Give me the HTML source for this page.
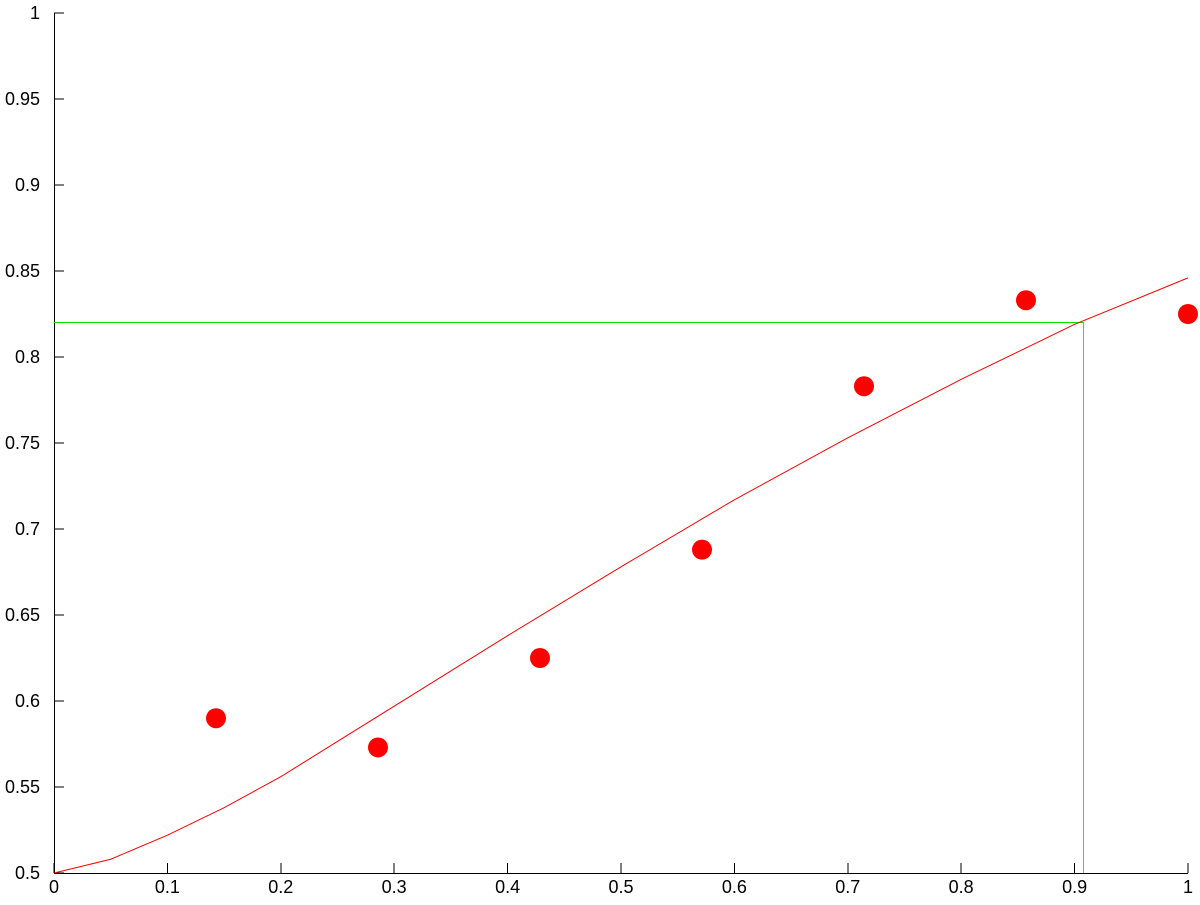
<!DOCTYPE html>
<html><head><meta charset="utf-8"><style>
body{margin:0;background:#fff}
svg text{font-family:"Liberation Sans",sans-serif;font-size:18px;fill:#000}
</style></head><body>
<svg id="chart" width="1200" height="900" xmlns="http://www.w3.org/2000/svg"></svg>
<script>
const xTicks=[0,0.1,0.2,0.3,0.4,0.5,0.6,0.7,0.8,0.9,1];
const xTickLabels=["0","0.1","0.2","0.3","0.4","0.5","0.6","0.7","0.8","0.9","1"];
const yTicks=[0.5,0.55,0.6,0.65,0.7,0.75,0.8,0.85,0.9,0.95,1];
const yTickLabels=["0.5","0.55","0.6","0.65","0.7","0.75","0.8","0.85","0.9","0.95","1"];
const pointX=[1/7,2/7,3/7,4/7,5/7,6/7,1];
const pointY=[0.590,0.573,0.625,0.688,0.783,0.833,0.825];
const curveX=[0,0.05,0.1,0.15,0.2,0.3,0.4,0.5,0.6,0.7,0.8,0.9,1];
const curveY=[0.5,0.508,0.522,0.538,0.556,0.597,0.638,0.678,0.717,0.753,0.787,0.819,0.846];
const thresholdY=0.82;
const thresholdX=0.908;

const X=v=>54+v*1134, Y=v=>873-(v-0.5)*1720;
const svg=document.getElementById('chart');
const NS='http://www.w3.org/2000/svg';
function mk(t,a){const e=document.createElementNS(NS,t);for(const k in a)e.setAttribute(k,a[k]);svg.appendChild(e);return e;}
let e;
e=mk('line',{x1:54,y1:873.5,x2:1188,y2:873.5,stroke:'#000','shape-rendering':'crispEdges'});


e=mk('line',{x1:54.5,y1:13,x2:54.5,y2:873,stroke:'#000','shape-rendering':'crispEdges'});


xTicks.forEach((v,i)=>{
 e=mk('line',{x1:X(v),y1:873,x2:X(v),y2:863,stroke:'#000','shape-rendering':'crispEdges'});
 
 
 e=mk('text',{x:X(v),y:893,'text-anchor':'middle'});e.textContent=xTickLabels[i];
 
 
});
yTicks.forEach((v,i)=>{
 e=mk('line',{x1:54,y1:Y(v),x2:64,y2:Y(v),stroke:'#000','shape-rendering':'crispEdges'});
 
 
 e=mk('text',{x:40,y:Y(v)+6,'text-anchor':'end'});e.textContent=yTickLabels[i];
 
 
});
e=mk('line',{x1:X(0),y1:Y(thresholdY),x2:X(thresholdX),y2:Y(thresholdY),stroke:'#00e000','shape-rendering':'crispEdges'});


e=mk('line',{x1:X(thresholdX),y1:Y(thresholdY),x2:X(thresholdX),y2:873,stroke:'#999','shape-rendering':'crispEdges'});


e=mk('polyline',{points:curveX.map((v,i)=>X(v)+','+Y(curveY[i])).join(' '),fill:'none',stroke:'#f00','stroke-width':1});


pointX.forEach((v,i)=>{
 e=mk('circle',{cx:X(v),cy:Y(pointY[i]),r:10,fill:'#f00'});
 
 
});
</script>
</body></html>
